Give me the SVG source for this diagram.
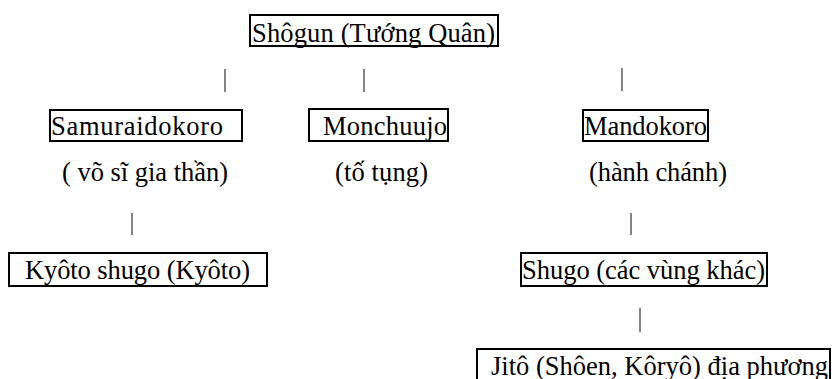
<svg xmlns="http://www.w3.org/2000/svg" width="832" height="379" viewBox="0 0 832 379">
<style>
.box{fill:none;stroke:#000;stroke-width:2}
.t{font-family:"Liberation Serif","Times New Roman",serif;font-size:26.5px;fill:#000}
.c{stroke:#333;stroke-width:1.2}
</style>
<rect width="832" height="379" fill="#fff"/>
<g id="connectors">
<line class="c" x1="225" y1="69" x2="225" y2="92"/>
<line class="c" x1="364" y1="69" x2="364" y2="92"/>
<line class="c" x1="622" y1="68" x2="622" y2="91"/>
<line class="c" x1="132" y1="213" x2="132" y2="235"/>
<line class="c" x1="631" y1="213" x2="631" y2="235"/>
<line class="c" x1="640" y1="308" x2="640" y2="332"/>
</g>
<g id="shogun">
<rect class="box" x="250" y="15" width="248" height="31"/>
<text class="t" x="252" y="42" textLength="243">Shôgun (Tướng Quân)</text>
</g>
<g id="samuraidokoro">
<rect class="box" x="50" y="110" width="192" height="31"/>
<text class="t" x="51" y="135" textLength="172">Samuraidokoro</text>
<text class="t" x="62" y="181" textLength="166">( võ sĩ gia thần)</text>
</g>
<g id="monchuujo">
<rect class="box" x="309" y="109" width="139" height="32"/>
<text class="t" x="323" y="135" textLength="124">Monchuujo</text>
<text class="t" x="335" y="181" textLength="93">(tố tụng)</text>
</g>
<g id="mandokoro">
<rect class="box" x="583" y="110" width="125" height="31"/>
<text class="t" x="584" y="135" textLength="123">Mandokoro</text>
<text class="t" x="589" y="181" textLength="138">(hành chánh)</text>
</g>
<g id="kyoto-shugo">
<rect class="box" x="9" y="253" width="258" height="33"/>
<text class="t" x="25" y="279" textLength="225">Kyôto shugo (Kyôto)</text>
</g>
<g id="shugo">
<rect class="box" x="521" y="253" width="246" height="33"/>
<text class="t" x="522" y="279" textLength="243">Shugo (các vùng khác)</text>
</g>
<g id="jito">
<rect class="box" x="477" y="349" width="353" height="34"/>
<text class="t" x="491" y="375" textLength="337">Jitô (Shôen, Kôryô) địa phương</text>
</g>
</svg>
